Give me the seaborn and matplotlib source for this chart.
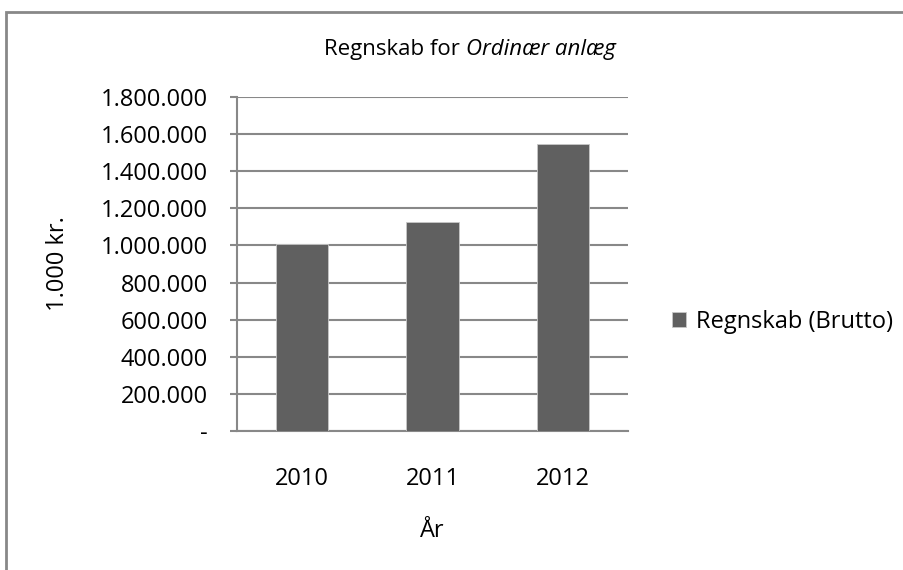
import pandas as pd
import numpy as np
import matplotlib.pyplot as plt
import seaborn as sns
from matplotlib.ticker import FuncFormatter, MultipleLocator
from matplotlib.patches import Rectangle

# data
years  = ["2010", "2011", "2012"]
values = [1007000, 1129000, 1548000]
series = ["Regnskab (Brutto)"] * 3

df = pd.DataFrame({"year": years, "value": values, "series": series})

sns.set_style("white")
plt.rcParams['font.family'] = ['Open Sans', 'DejaVu Sans']
plt.rcParams['text.color'] = 'black'
plt.rcParams['axes.labelcolor'] = 'black'
plt.rcParams['xtick.labelcolor'] = 'black'
plt.rcParams['ytick.labelcolor'] = 'black'

fs = 17

fig = plt.figure(figsize=(9.04, 5.70), dpi=100)
ax = fig.add_axes([237/904, 1 - 431/570, (628 - 237)/904, (431 - 97)/570])

sns.barplot(data=df, x="year", y="value", hue="series", palette=["#606060"],
            width=0.4, edgecolor="#c8c8c8", linewidth=0.6, ax=ax, zorder=3)

ax.set_xlim(-0.5, 2.5)
ax.set_ylim(0, 1800000)
ax.yaxis.set_major_locator(MultipleLocator(200000))

def dk_fmt(v, pos):
    if v == 0:
        return "-"
    return f"{int(v):,}".replace(",", ".")

ax.yaxis.set_major_formatter(FuncFormatter(dk_fmt))
ax.grid(axis='y', color='#888888', linewidth=1.5, zorder=0)
ax.set_axisbelow(True)

for s in ["top", "right"]:
    ax.spines[s].set_visible(False)
for s in ["left", "bottom"]:
    ax.spines[s].set_color('#888888')
    ax.spines[s].set_linewidth(1.5)

ax.tick_params(axis='y', direction='out', length=5, width=1.5, color='#888888',
               labelsize=fs, pad=16, left=True)
ax.tick_params(axis='x', length=0, labelsize=fs, pad=26)

ax.set_xlabel("År", fontsize=fs, labelpad=20)
ax.set_ylabel("1.000 kr.", fontsize=fs, labelpad=22)

# title with italic part
ty = 1 - 50/570
t1 = fig.text(0, 0, "Regnskab for ", fontsize=16, va='center')
t2 = fig.text(0, 0, "Ordinær anlæg", fontsize=16, style='italic', va='center')
fig.canvas.draw()
r = fig.canvas.get_renderer()
w1 = t1.get_window_extent(r).width
w2 = t2.get_window_extent(r).width
x0 = 470 - (w1 + w2) / 2
t1.set_position((x0/904, ty))
t2.set_position(((x0 + w1)/904, ty))

ax.legend(loc='center left', bbox_to_anchor=(672/904, 1 - 322/570),
          bbox_transform=fig.transFigure, frameon=False, fontsize=fs,
          handlelength=0.6, handleheight=0.6, handletextpad=0.4,
          borderpad=0, borderaxespad=0)

# chart border
fig.patches.append(Rectangle((6/904, -0.1), 1.2, 1 - 12/570 + 0.1,
                             transform=fig.transFigure, fill=False,
                             edgecolor='#888888', linewidth=2))

fig.savefig("out.png", dpi=100)
